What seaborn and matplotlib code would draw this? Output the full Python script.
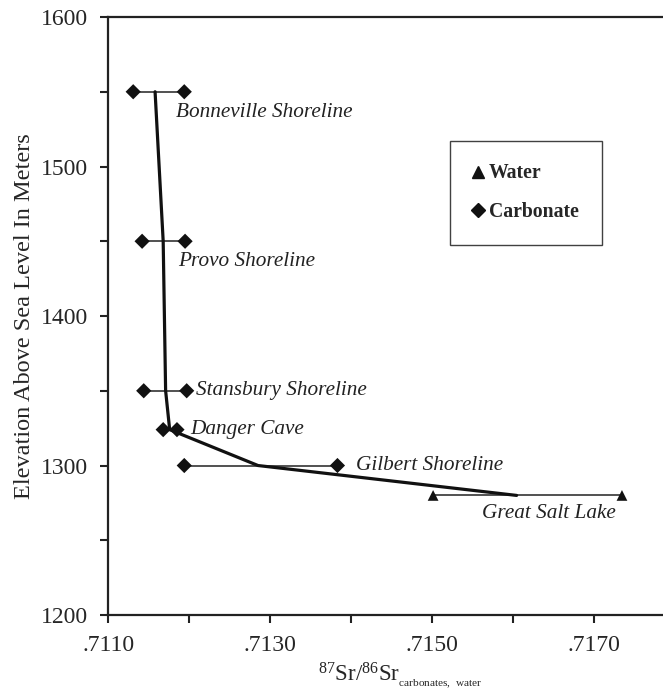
import numpy as np
import pandas as pd
import seaborn as sns
import matplotlib.pyplot as plt
from matplotlib.lines import Line2D
from matplotlib.ticker import MultipleLocator

sns.set_style("ticks")
plt.rcParams['font.family'] = ['Liberation Serif', 'DejaVu Serif']
plt.rcParams['mathtext.default'] = 'regular'

# Sites, elevation (m) and 87Sr/86Sr range (low, high)
sites = ['Bonneville Shoreline', 'Provo Shoreline', 'Stansbury Shoreline',
         'Danger Cave', 'Gilbert Shoreline', 'Great Salt Lake']
elevation = [1550, 1450, 1350, 1324, 1300, 1280]
sr_low = [0.71131, 0.71142, 0.71144, 0.71168, 0.71194, 0.71501]
sr_high = [0.71194, 0.71195, 0.71197, 0.71185, 0.71383, 0.71734]
kind = ['Carbonate', 'Carbonate', 'Carbonate', 'Carbonate', 'Carbonate', 'Water']

# trend line through the sites
trend_sr = [0.71158, 0.71168, 0.71171, 0.71176, 0.71285, 0.71604]
trend_elev = [1550, 1450, 1350, 1324, 1300, 1280]

# label offsets (points) from the right-hand marker
label_offsets = [(-6, -15), (-5, -14.5), (7, 0), (9.5, 0), (13, 0), (-101, -13)]

pts = pd.DataFrame({
    'sr': sr_low + sr_high,
    'elev': elevation * 2,
    'kind': kind * 2,
})
trend = pd.DataFrame({'sr': trend_sr, 'elev': trend_elev})

fig = plt.figure(figsize=(6.63, 6.94), dpi=100)
ax = fig.add_axes([0.163, 0.1138, 0.835, 0.8617])

ax.hlines(elevation, sr_low, sr_high, color='#333333', lw=1.2, zorder=1)
sns.lineplot(data=trend, x='sr', y='elev', sort=False, color='#111111',
             lw=2.3, ax=ax, zorder=2)
sns.scatterplot(data=pts, x='sr', y='elev', hue='kind', style='kind',
                markers={'Carbonate': 'D', 'Water': '^'},
                palette={'Carbonate': '#111111', 'Water': '#111111'},
                s=60, linewidth=0, ax=ax, legend=False, zorder=3)

for name, x, y, off in zip(sites, sr_high, elevation, label_offsets):
    ax.annotate(name, (x, y), xytext=off, textcoords='offset points',
                ha='left', va='center', fontsize=15.3, style='italic',
                color='#222222')

ax.set_xlim(0.711, 0.71783)
ax.set_ylim(1200, 1600)
ax.set_xticks(np.arange(0.711, 0.7175, 0.001))
ax.set_xticklabels(['.7110', '', '.7130', '', '.7150', '', '.7170'])
ax.set_yticks([1200, 1300, 1400, 1500, 1600])
ax.yaxis.set_minor_locator(MultipleLocator(50))
ax.tick_params(axis='both', which='both', length=5.5, width=1.5,
               labelsize=17, color='#222222')
ax.tick_params(axis='y', pad=9)
ax.tick_params(axis='x', pad=9)
sns.despine(ax=ax, top=False)
for sp in ['left', 'bottom', 'top']:
    ax.spines[sp].set_linewidth(1.6)
    ax.spines[sp].set_color('#222222')

ax.set_ylabel('Elevation Above Sea Level In Meters', fontsize=17.5, labelpad=4)
ax.set_xlabel(r'$^{87}$Sr/$^{86}$Sr$_{{}_{carbonates,\ water}}$', fontsize=16.5,
              labelpad=0)
ax.xaxis.set_label_coords(0.527, -0.076)

handles = [Line2D([], [], marker='^', color='#111111', ls='', ms=8),
           Line2D([], [], marker='D', color='#111111', ls='', ms=7.5)]
leg = ax.legend(handles, ['Water', 'Carbonate'], loc='upper left',
                bbox_to_anchor=(0.617, 0.793), frameon=True, fancybox=False,
                prop={'weight': 'bold', 'size': 14.2}, handlelength=0.6,
                handletextpad=0.25, borderpad=1.15, labelspacing=0.95,
                borderaxespad=0)
leg.get_frame().set_edgecolor('#111111')
leg.get_frame().set_linewidth(1.0)

fig.savefig('out.png', dpi=100)
